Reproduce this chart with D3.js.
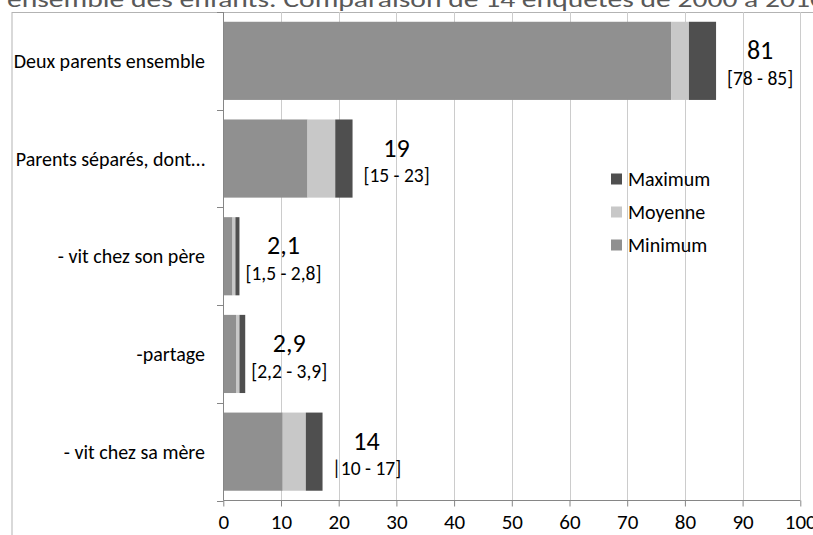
<!DOCTYPE html>
<html><head><meta charset="utf-8">
<script src="https://cdn.jsdelivr.net/npm/d3@7"></script>
<style>
html,body{margin:0;padding:0;background:#fff;overflow:hidden;}
svg{display:block;font-family:Carlito, Lato, "Open Sans", sans-serif;}
</style></head>
<body>
<svg id="chart" width="813" height="535"></svg>
<script>
const categories = ["Deux parents ensemble", "Parents séparés, dont…", "- vit chez son père", "-partage", "- vit chez sa mère"];
const minimum = [77.6, 14.6, 1.6, 2.2, 10.3];
const moyenne = [80.7, 19.4, 2.1, 2.8, 14.3];
const maximum = [85.4, 22.4, 2.8, 3.8, 17.2];
const valueLabels = ["81", "19", "2,1", "2,9", "14"];
const rangeLabels = ["[78 - 85]", "[15 - 23]", "[1,5 - 2,8]", "[2,2 - 3,9]", "|10 - 17]"];
const xTicks = [0, 10, 20, 30, 40, 50, 60, 70, 80, 90, 100];
const seriesNames = ["Minimum", "Moyenne", "Maximum"];
const seriesColors = ["#909090", "#c8c8c8", "#4f4f4f"];
const title = "ensemble des enfants. Comparaison de 14 enquêtes de 2000 à 2010";

const svg = d3.select("#chart");
const x = d3.scaleLinear().domain([0, 100]).range([223.3, 800.3]);
const y = d3.scaleBand().domain(categories).range([12, 500.5]).paddingInner(0.2).paddingOuter(0.1);

// title (cut off at top)
svg.append("text").attr("x", 7).attr("y", 7).attr("fill", "#595959")
  .style("font-size", "23px").attr("textLength", 818).attr("lengthAdjust", "spacingAndGlyphs")
  .text(title);

// chart frame
svg.append("line").attr("x1", 12).attr("x2", 813).attr("y1", 12.5).attr("y2", 12.5).attr("stroke", "#b3b3b3");
svg.append("line").attr("x1", 12).attr("x2", 12).attr("y1", 12).attr("y2", 535).attr("stroke", "#b3b3b3");

// gridlines
svg.append("g").selectAll("line").data(xTicks.slice(1)).join("line")
  .attr("x1", d => Math.round(x(d)) + 0.5).attr("x2", d => Math.round(x(d)) + 0.5)
  .attr("y1", 12).attr("y2", 500.5).attr("stroke", "#cccccc");

// stacks
const stackData = categories.map((c, i) => ({cat: c, segs: [[0, minimum[i]], [minimum[i], moyenne[i]], [moyenne[i], maximum[i]]]}));
const g = svg.append("g");
stackData.forEach(d => {
  d.segs.forEach((s, j) => {
    g.append("rect").attr("x", x(s[0])).attr("width", x(s[1]) - x(s[0]))
      .attr("y", y(d.cat)).attr("height", y.bandwidth()).attr("fill", seriesColors[j]);
  });
});

// x axis
const xAxis = d3.axisBottom(x).tickValues(xTicks).tickSize(6).tickPadding(5).tickFormat(d3.format("d"));
const gx = svg.append("g").attr("transform", "translate(0,500.5)").call(xAxis);
gx.select(".domain").attr("stroke", "#868686").attr("d", `M${x(0)},0H${x(100)}`);
gx.selectAll(".tick line").attr("stroke", "#868686");
gx.selectAll(".tick text").attr("fill", "#000").style("font-size", "21px").style("font-family", "Carlito, Lato, sans-serif").attr("dy", "0.85em");

// y axis
const bounds = categories.map(c => y(c) - y.step() * y.paddingInner() / 2);
bounds.push(500.5);
svg.append("line").attr("x1", 223.5).attr("x2", 223.5).attr("y1", 12).attr("y2", 500.5).attr("stroke", "#868686");
svg.append("g").selectAll("line").data(bounds).join("line")
  .attr("x1", 217).attr("x2", 223.5).attr("y1", d => Math.round(d) + 0.5).attr("y2", d => Math.round(d) + 0.5)
  .attr("stroke", "#868686");

// category labels
svg.append("g").selectAll("text").data(categories).join("text")
  .attr("x", 205).attr("y", d => y(d) + y.bandwidth() / 2).attr("dy", "0.35em")
  .attr("text-anchor", "end").attr("fill", "#000").style("font-size", "20px").text(d => d);

// data labels
categories.forEach((c, i) => {
  const cx = x(maximum[i]) + 44;
  const cy = y(c) + y.bandwidth() / 2;
  svg.append("text").attr("x", cx).attr("y", cy - 11).attr("dy", "0.35em").attr("text-anchor", "middle")
    .attr("fill", "#000").style("font-size", "26px").text(valueLabels[i]);
  svg.append("text").attr("x", cx).attr("y", cy + 17).attr("dy", "0.35em").attr("text-anchor", "middle")
    .attr("fill", "#000").style("font-size", "19.5px").text(rangeLabels[i]);
});

// legend
const legendOrder = [2, 1, 0];
const ly = [179, 212, 245];
legendOrder.forEach((j, k) => {
  svg.append("rect").attr("x", 611).attr("y", ly[k] - 5.5).attr("width", 11).attr("height", 11).attr("fill", seriesColors[j]);
  svg.append("text").attr("x", 628).attr("y", ly[k]).attr("dy", "0.35em").attr("fill", "#000")
    .style("font-size", "20px").text(seriesNames[j]);
});
</script>
</body></html>
